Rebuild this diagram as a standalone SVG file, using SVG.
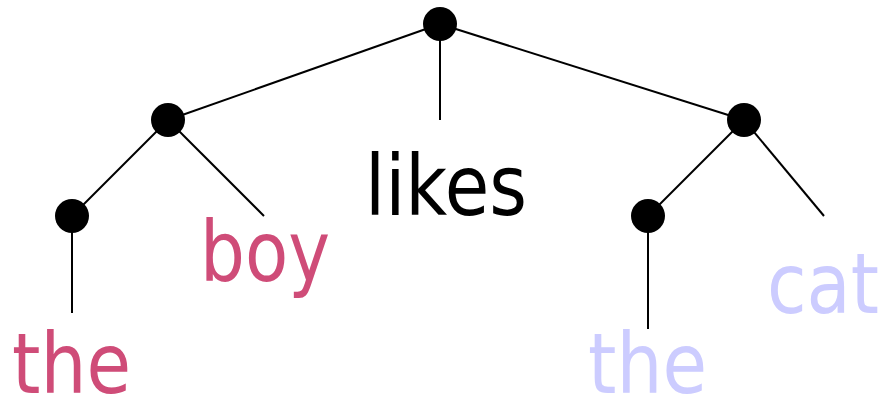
<svg xmlns="http://www.w3.org/2000/svg" width="888" height="396" viewBox="0 0 888 396">
<style>
.e{stroke:#000;stroke-width:2;fill:none}
.n{fill:#000}
text{font-family:"DejaVu Sans",Verdana,sans-serif;font-size:84px}
.k{fill:#000}
.p{fill:#CF4C78}
.b{fill:#CCCCFF}
</style>
<g id="edges">
<line class="e" x1="440" y1="24" x2="168" y2="120"/>
<line class="e" x1="440" y1="24" x2="744" y2="120"/>
<line class="e" x1="440" y1="24" x2="440" y2="120"/>
<line class="e" x1="168" y1="120" x2="72" y2="216"/>
<line class="e" x1="168" y1="120" x2="264" y2="216"/>
<line class="e" x1="72" y1="216" x2="72" y2="313"/>
<line class="e" x1="744" y1="120" x2="648" y2="216"/>
<line class="e" x1="744" y1="120" x2="824" y2="216"/>
<line class="e" x1="648" y1="216" x2="648" y2="329"/>
</g>
<g id="root"><circle class="n" cx="440" cy="24" r="17"/></g>
<g id="np1"><circle class="n" cx="168" cy="120" r="17"/></g>
<g id="np2"><circle class="n" cx="744" cy="120" r="17"/></g>
<g id="det1"><circle class="n" cx="72" cy="216" r="17"/></g>
<g id="det2"><circle class="n" cx="648" cy="216" r="17"/></g>
<g id="w-likes"><text class="k" x="365" y="215" textLength="162" lengthAdjust="spacingAndGlyphs">likes</text></g>
<g id="w-boy"><text class="p" x="200" y="281" textLength="130" lengthAdjust="spacingAndGlyphs">boy</text></g>
<g id="w-the1"><text class="p" x="12" y="393" textLength="119" lengthAdjust="spacingAndGlyphs">the</text></g>
<g id="w-the2"><text class="b" x="588" y="393" textLength="119" lengthAdjust="spacingAndGlyphs">the</text></g>
<g id="w-cat"><text class="b" x="767" y="313" textLength="112" lengthAdjust="spacingAndGlyphs">cat</text></g>
</svg>
